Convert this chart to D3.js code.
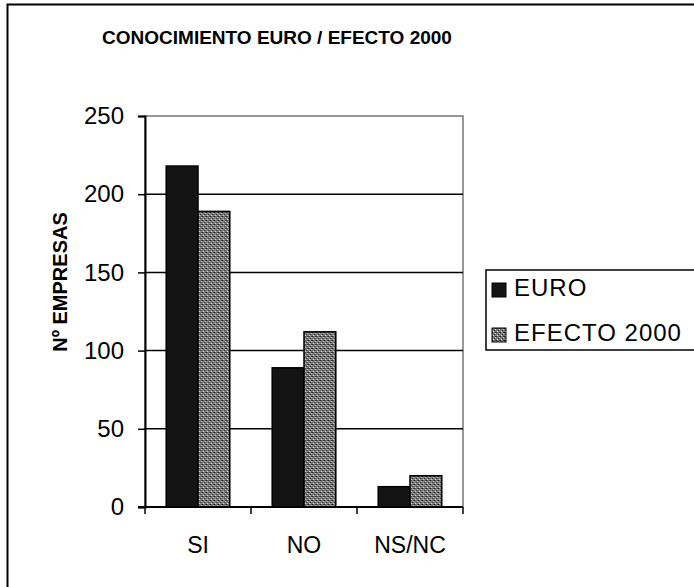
<!DOCTYPE html>
<html>
<head>
<meta charset="utf-8">
<script src="https://cdn.jsdelivr.net/npm/d3@7"></script>
<style>
  body { margin: 0; background: #fff; }
  svg { display: block; font-family: Arial, "Liberation Sans", sans-serif; }
</style>
</head>
<body>
<script>
// Chart data
const categories = ['SI', 'NO', 'NS/NC'];
const seriesNames = ['EURO', 'EFECTO 2000'];
const euroValues = [218, 89, 13];
const efectoValues = [189, 112, 20];
const yTicks = [0, 50, 100, 150, 200, 250];

const width = 694, height = 587;
const plot = {left: 145, right: 463, top: 116, bottom: 507};

const svg = d3.select('body').append('svg')
  .attr('width', width)
  .attr('height', height);

// Textures --------------------------
const defs = svg.append('defs');

const pat = defs.append('pattern').attr('id', 'efectoPat')
  .attr('width', 4).attr('height', 4).attr('patternUnits', 'userSpaceOnUse');
pat.append('rect').attr('width', 4).attr('height', 4).attr('fill', '#7a7a7a');
pat.append('rect').attr('x', 0).attr('y', 0).attr('width', 1).attr('height', 1).attr('fill', '#1a1a1a');
pat.append('rect').attr('x', 2).attr('y', 2).attr('width', 1).attr('height', 1).attr('fill', '#222');
pat.append('rect').attr('x', 3).attr('y', 0).attr('width', 1).attr('height', 1).attr('fill', '#333');
pat.append('rect').attr('x', 1).attr('y', 3).attr('width', 1).attr('height', 1).attr('fill', '#e8e8e8');
pat.append('rect').attr('x', 3).attr('y', 1).attr('width', 1).attr('height', 1).attr('fill', '#d0d0d0');

const fills = {'EURO': '#141414', 'EFECTO 2000': 'url(#efectoPat)'};

// Outer frame (left and top only visible in the scan)
svg.append('path')
  .attr('d', `M7.5,${height} V4.5 H${width}`)
  .attr('fill', 'none').attr('stroke', '#000').attr('stroke-width', 2);

// Title
svg.append('text')
  .attr('x', 277).attr('y', 44)
  .attr('text-anchor', 'middle')
  .attr('font-size', 19).attr('font-weight', 'bold')
  .text('CONOCIMIENTO EURO / EFECTO 2000');

// Scales ----------------------------
const x0 = d3.scaleBand()
  .domain(categories)
  .range([plot.left, plot.right])
  .paddingInner(0.4)
  .paddingOuter(0.2);

const x1 = d3.scaleBand()
  .domain(seriesNames)
  .range([0, x0.bandwidth()]);

const y = d3.scaleLinear()
  .domain([0, 250])
  .range([plot.bottom, plot.top]);

// Plot area border
svg.append('rect')
  .attr('x', plot.left).attr('y', plot.top)
  .attr('width', plot.right - plot.left).attr('height', plot.bottom - plot.top)
  .attr('fill', '#fff').attr('stroke', '#333').attr('stroke-width', 1);

// Gridlines
svg.append('g')
  .selectAll('line')
  .data(yTicks.filter(d => d > 0 && d < 250))
  .join('line')
  .attr('x1', plot.left).attr('x2', plot.right)
  .attr('y1', d => y(d)).attr('y2', d => y(d))
  .attr('stroke', '#000').attr('stroke-width', 1.5);

// Bars ------------------------------
const rows = categories.map((c, i) => ({
  cat: c,
  vals: [
    {name: 'EURO', value: euroValues[i]},
    {name: 'EFECTO 2000', value: efectoValues[i]}
  ]
}));

svg.append('g')
  .selectAll('g')
  .data(rows)
  .join('g')
  .attr('transform', d => `translate(${x0(d.cat)},0)`)
  .selectAll('rect')
  .data(d => d.vals)
  .join('rect')
  .attr('x', d => x1(d.name))
  .attr('y', d => y(d.value))
  .attr('width', x1.bandwidth())
  .attr('height', d => y(0) - y(d.value))
  .attr('fill', d => fills[d.name])
  .attr('stroke', '#000')
  .attr('stroke-width', 1.5);

// Y axis ----------------------------
const yAxis = svg.append('g')
  .attr('transform', `translate(${plot.left},0)`)
  .call(d3.axisLeft(y).tickValues(yTicks).tickSize(7).tickPadding(14));
yAxis.select('.domain').attr('stroke', '#000').attr('stroke-width', 2);
yAxis.selectAll('.tick line').attr('stroke', '#000').attr('stroke-width', 1.5);
yAxis.selectAll('.tick text')
  .attr('font-size', 24).attr('fill', '#000')
  .attr('font-family', 'Arial, "Liberation Sans", sans-serif');

// X axis ----------------------------
const xAxis = svg.append('g')
  .attr('transform', `translate(0,${plot.bottom})`);
xAxis.append('line')
  .attr('x1', plot.left - 7).attr('x2', plot.right)
  .attr('stroke', '#000').attr('stroke-width', 2);
const step = x0.step();
xAxis.selectAll('.xtick')
  .data(d3.range(categories.length + 1))
  .join('line')
  .attr('class', 'xtick')
  .attr('x1', i => plot.left + i * step).attr('x2', i => plot.left + i * step)
  .attr('y1', 0).attr('y2', 7)
  .attr('stroke', '#000').attr('stroke-width', 1.5);
xAxis.selectAll('.xlabel')
  .data(categories)
  .join('text')
  .attr('class', 'xlabel')
  .attr('x', d => x0(d) + x0.bandwidth() / 2)
  .attr('y', 46)
  .attr('text-anchor', 'middle')
  .attr('font-size', 23)
  .text(d => d);

// Y axis title
svg.append('text')
  .attr('transform', 'translate(67,282) rotate(-90)')
  .attr('text-anchor', 'middle')
  .attr('font-size', 20).attr('font-weight', 'bold')
  .text('Nº EMPRESAS');

// Legend ----------------------------
const legend = svg.append('g');
legend.append('rect')
  .attr('x', 486).attr('y', 270)
  .attr('width', 220).attr('height', 80)
  .attr('fill', '#fff').attr('stroke', '#000').attr('stroke-width', 1.5);

const items = legend.selectAll('.item')
  .data(seriesNames)
  .join('g')
  .attr('class', 'item')
  .attr('transform', (d, i) => `translate(492,${283 + i * 45})`);
items.append('rect')
  .attr('width', 14).attr('height', 14)
  .attr('fill', d => fills[d])
  .attr('stroke', '#000').attr('stroke-width', 1);
items.append('text')
  .attr('x', 22).attr('y', 13)
  .attr('font-size', 24)
  .attr('letter-spacing', 1)
  .text(d => d);
</script>
</body>
</html>
